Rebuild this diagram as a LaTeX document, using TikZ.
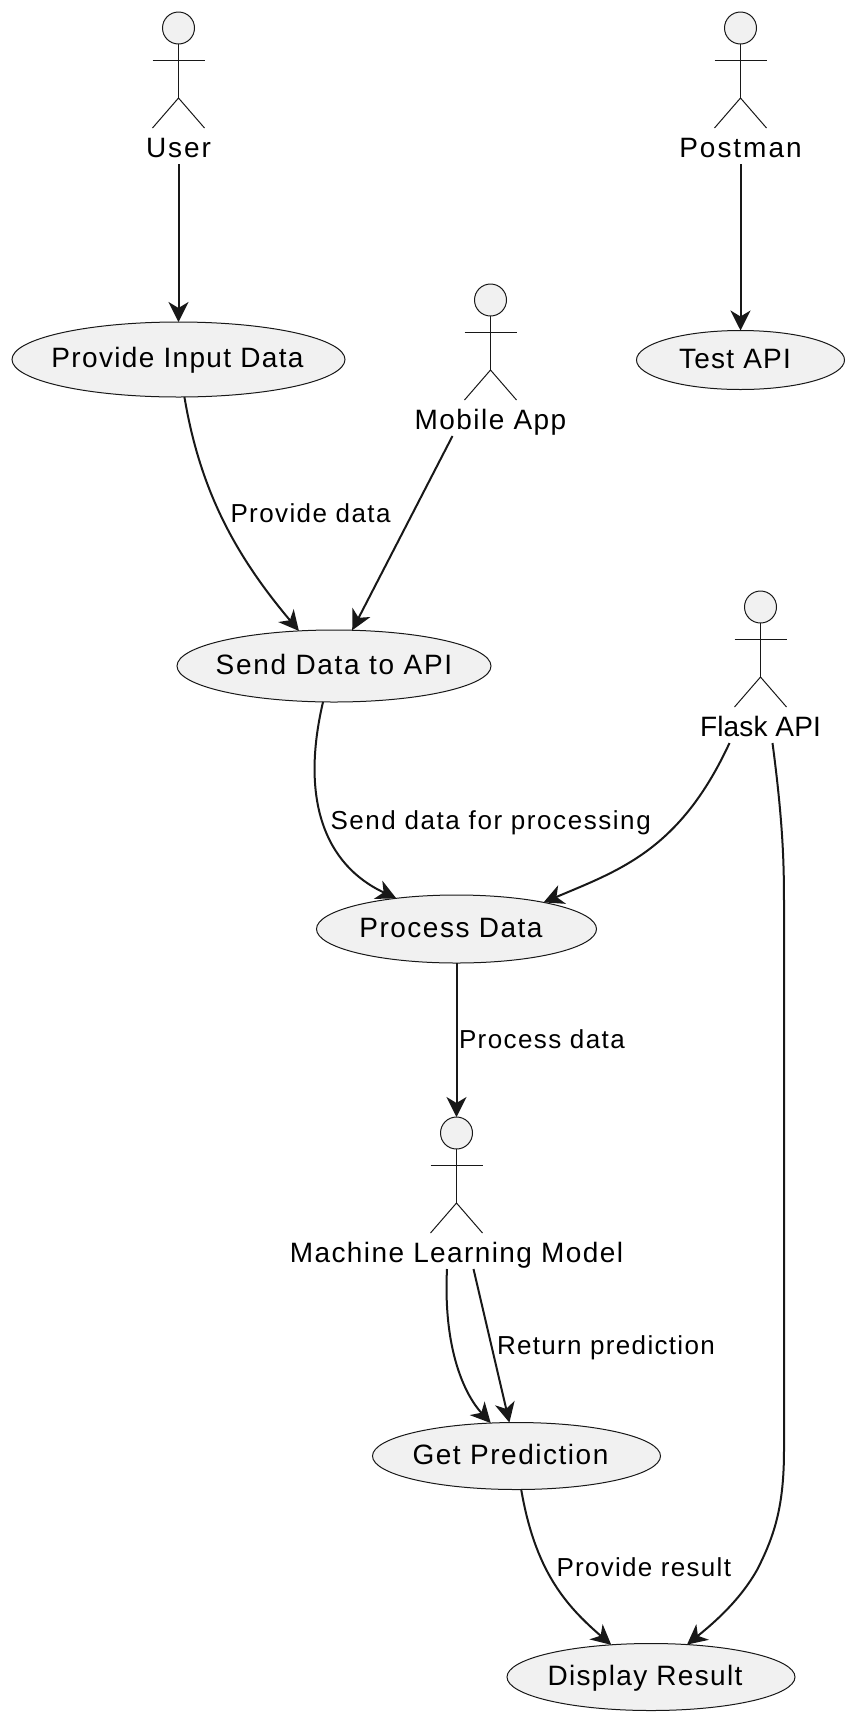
\documentclass[tikz,border=0pt]{standalone}
\usepackage{fontspec}
\setmainfont{Liberation Sans}
\newfontfamily\uclabel[LetterSpace=4.3]{Liberation Sans}
\newfontfamily\edlabel[LetterSpace=4.6]{Liberation Sans}
\usetikzlibrary{shapes.geometric,arrows.meta}
\definecolor{ink}{HTML}{181818}
\definecolor{ucfill}{HTML}{F1F1F1}
\tikzset{
  x=1pt,y=-1pt,
  usecase/.style={ellipse,draw=ink,fill=ucfill,line width=1pt,inner sep=0pt,outer sep=0pt,
    text=black,text height=21pt,text depth=5pt,font=\uclabel\fontsize{28}{30}\selectfont},
  actorhead/.style={circle,draw=ink,fill=ucfill,line width=1pt,inner sep=0pt,outer sep=0pt,minimum size=32pt},
  actorline/.style={draw=ink,line width=1pt},
  actorlabel/.style={anchor=base,inner sep=0pt,outer sep=0pt,text height=20pt,text depth=7pt,
    font=\uclabel\fontsize{28}{30}\selectfont},
  edgelabel/.style={anchor=base west,inner sep=0pt,outer sep=0pt,font=\edlabel\fontsize{26}{28}\selectfont},
  conn/.style={draw=ink,line width=2pt,-{Stealth[length=20pt,width=20pt,inset=6pt]}},
}
% letter spacing, space added on the right (shifts the text left), text
\newcommand{\uctext}[3]{\makebox[0pt]{\addfontfeature{LetterSpace=#1}#3\hspace{#2pt}}}
\newcommand{\spaced}[2]{\addfontfeature{LetterSpace=#1}#2}
\newcommand{\actorfig}[5]{% name, x, top y, letter spacing, label
  \node[actorhead] (#1head) at (#2,#3+16) {};
  \draw[actorline] (#1head.south) -- ++(0,54) coordinate (#1hip);
  \draw[actorline] (#2-26,#3+48) -- (#2+26,#3+48);
  \draw[actorline] (#2-26,#3+116) -- (#1hip) -- (#2+26,#3+116);
  \node[actorlabel] (#1) at (#2,#3+145) {\spaced{#4}{#5}};
}
\begin{document}
\begin{tikzpicture}
\useasboundingbox (0,0) rectangle (854,1722);
\actorfig{user}{178.5}{12}{6.8}{User}
\actorfig{postman}{740.5}{12}{7}{Postman}
\actorfig{mobile}{490.5}{284}{5.2}{Mobile App}
\actorfig{flask}{760.5}{591}{0.5}{Flask API}
\actorfig{model}{456.5}{1117}{5}{Machine Learning Model}

\node[usecase,minimum width=333pt,minimum height=75pt] (provide) at (178.5,359.5) {\uctext{4.8}{2}{Provide Input Data}};
\node[usecase,minimum width=208pt,minimum height=59pt] (test) at (740.5,360) {\uctext{4.6}{11}{Test API}};
\node[usecase,minimum width=314pt,minimum height=72pt] (send) at (334,666) {\uctext{6}{0}{Send Data to API}};
\node[usecase,minimum width=280pt,minimum height=68pt] (process) at (456.5,929) {\uctext{5.4}{11}{Process Data}};
\node[usecase,minimum width=288pt,minimum height=67pt] (get) at (516.5,1456) {\uctext{5.5}{12}{Get Prediction}};
\node[usecase,minimum width=288pt,minimum height=67pt] (display) at (651,1677) {\uctext{4.7}{12}{Display Result}};

\draw[conn] (user.south) -- (provide.north);
\draw[conn] (postman.south) -- (test.north);
\draw[conn] (provide.-81) .. controls (200,490) and (235,555) .. (send.135);
\draw[conn] ([xshift=-38pt]mobile.south) -- (send.63);
\draw[conn] (send.-107) .. controls (300,800) and (325,865) .. (process.153.4);
\draw[conn] ([xshift=-31pt]flask.south) .. controls (680,850) and (620,870) .. (process.17.6);
\draw[conn] ([xshift=12pt]flask.south) .. controls (784,830) and (784,870) .. (784,911) -- (784,1450) .. controls (784,1505) and (775,1535) .. (757,1570) .. controls (740,1600) and (715,1622) .. (display.42.6);
\draw[conn] (process.south) -- (modelhead.north);
\draw[conn] ([xshift=-9.5pt]model.south) .. controls (443,1350) and (465,1395) .. (get.128.8);
\draw[conn] ([xshift=17pt]model.south) -- (get.102.8);
\draw[conn] (get.-82.5) .. controls (535,1570) and (565,1605) .. (display.141);

\node[edgelabel] (lbla) at (230.5,522.5) {\spaced{5.4}{Provide data}};
\node[edgelabel] (lblb) at (330.5,829.5) {\spaced{6}{Send data for processing}};
\node[edgelabel] (lblc) at (459,1048) {\spaced{5.4}{Process data}};
\node[edgelabel] (lbld) at (497,1354) {\spaced{5.1}{Return prediction}};
\node[edgelabel] (lble) at (556.5,1576) {\spaced{5}{Provide result}};
\end{tikzpicture}
\end{document}
